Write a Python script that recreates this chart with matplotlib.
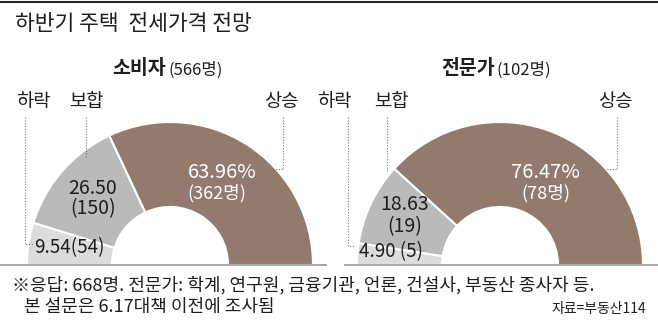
import matplotlib
matplotlib.use('Agg')
import matplotlib.pyplot as plt

plt.rcParams['font.family'] = ['Noto Sans CJK KR', 'DejaVu Sans']

W, H = 658, 325

categories = ['하락', '보합', '상승']
consumer_pct = [9.54, 26.50, 63.96]
consumer_cnt = [54, 150, 362]
expert_pct = [4.90, 18.63, 76.47]
expert_cnt = [5, 19, 78]

colors = ['#dcdcdc', '#bababa', '#937a6e']
ink = '#1e1e1e'

fig = plt.figure(figsize=(W / 100, H / 100), dpi=100)

# overlay axis in pixel coordinates for text and leader lines
ov = fig.add_axes([0, 0, 1, 1])
ov.set_xlim(0, W)
ov.set_ylim(H, 0)
ov.axis('off')
ov.set_zorder(5)
ov.patch.set_alpha(0)

R, r_in = 143, 58
base_y = 265


def half_donut(cx, pct):
    ax = fig.add_axes([(cx - R) / W, (H - base_y) / H, 2 * R / W, R / H])
    vals = list(pct) + [sum(pct)]
    wedges, _ = ax.pie(vals, startangle=180, counterclock=False,
                       colors=colors + ['none'], radius=1,
                       wedgeprops=dict(width=1 - r_in / R, edgecolor='white', linewidth=1.5))
    wedges[-1].set_edgecolor('none')
    ax.set_aspect('auto')
    ax.set_xlim(-1, 1)
    ax.set_ylim(0, 1)
    ax.axis('off')
    return ax


half_donut(170, consumer_pct)
half_donut(500, expert_pct)

# top rule and baselines
ov.plot([0, W], [2, 2], color='#222222', lw=1.5)
ov.plot([0, 326], [base_y, base_y], color='#999999', lw=1.2)
ov.plot([345, W], [base_y, base_y], color='#999999', lw=1.2)

ov.text(15, 24, '하반기 주택  전세가격 전망', fontsize=15.5, fontweight='medium',
        color=ink, va='center', ha='left')

# panel headings
ov.text(166, 69, '소비자', fontsize=14, fontweight='bold', color=ink, ha='right', va='center')
ov.text(168, 70, '(566명)', fontsize=12, color=ink, ha='left', va='center')
ov.text(495, 69, '전문가', fontsize=14, fontweight='bold', color=ink, ha='right', va='center')
ov.text(497, 70, '(102명)', fontsize=12, color=ink, ha='left', va='center')

# category labels with dotted leaders
lab_kw = dict(fontsize=13.5, color=ink, va='center', ha='center')
dot = dict(color='#777777', lw=0.8, ls=(0, (1, 1.5)))
for x, name in zip([33, 86, 281], categories):
    ov.text(x, 101, name, **lab_kw)
for x, name in zip([334, 391, 615], categories):
    ov.text(x, 101, name, **lab_kw)

ov.plot([25, 25, 33], [117, 244, 244], **dot)
ov.plot([86, 86], [117, 158], **dot)
ov.plot([283, 283, 270], [117, 169, 169], **dot)
ov.plot([348, 348, 355], [117, 246, 246], **dot)
ov.plot([387, 387], [117, 172], **dot)
ov.plot([617, 617, 607], [117, 169, 169], **dot)

# values inside the segments
vk = dict(fontsize=14, ha='center', va='center')
ov.text(222, 172, f'{consumer_pct[2]:.2f}%', color='white', fontsize=14.5, ha='center', va='center')
ov.text(217, 193, f'({consumer_cnt[2]}명)', color='white', fontsize=13, ha='center', va='center')
ov.text(93, 188, f'{consumer_pct[1]:.2f}', color=ink, **vk)
ov.text(93, 209, f'({consumer_cnt[1]})', color=ink, **vk)
ov.text(69, 248, f'{consumer_pct[0]:.2f}({consumer_cnt[0]})', color=ink, fontsize=13.5,
        ha='center', va='center')

ov.text(545, 172, f'{expert_pct[2]:.2f}%', color='white', fontsize=14.5, ha='center', va='center')
ov.text(546, 193, f'({expert_cnt[2]}명)', color='white', fontsize=13, ha='center', va='center')
ov.text(405, 205, f'{expert_pct[1]:.2f}', color=ink, **vk)
ov.text(405, 227, f'({expert_cnt[1]})', color=ink, **vk)
ov.text(391, 252, f'{expert_pct[0]:.2f} ({expert_cnt[0]})', color=ink, fontsize=13.5,
        ha='center', va='center')

# footnote and source
ov.text(12, 285, '※응답: 668명. 전문가: 학계, 연구원, 금융기관, 언론, 건설사, 부동산 종사자 등.',
        fontsize=13, color=ink, va='center', ha='left')
ov.text(24, 307, '본 설문은 6.17대책 이전에 조사됨', fontsize=13, color=ink,
        va='center', ha='left')
ov.text(646, 309, '자료=부동산114', fontsize=10, color=ink, va='center', ha='right')

fig.savefig('out.png', dpi=100)
